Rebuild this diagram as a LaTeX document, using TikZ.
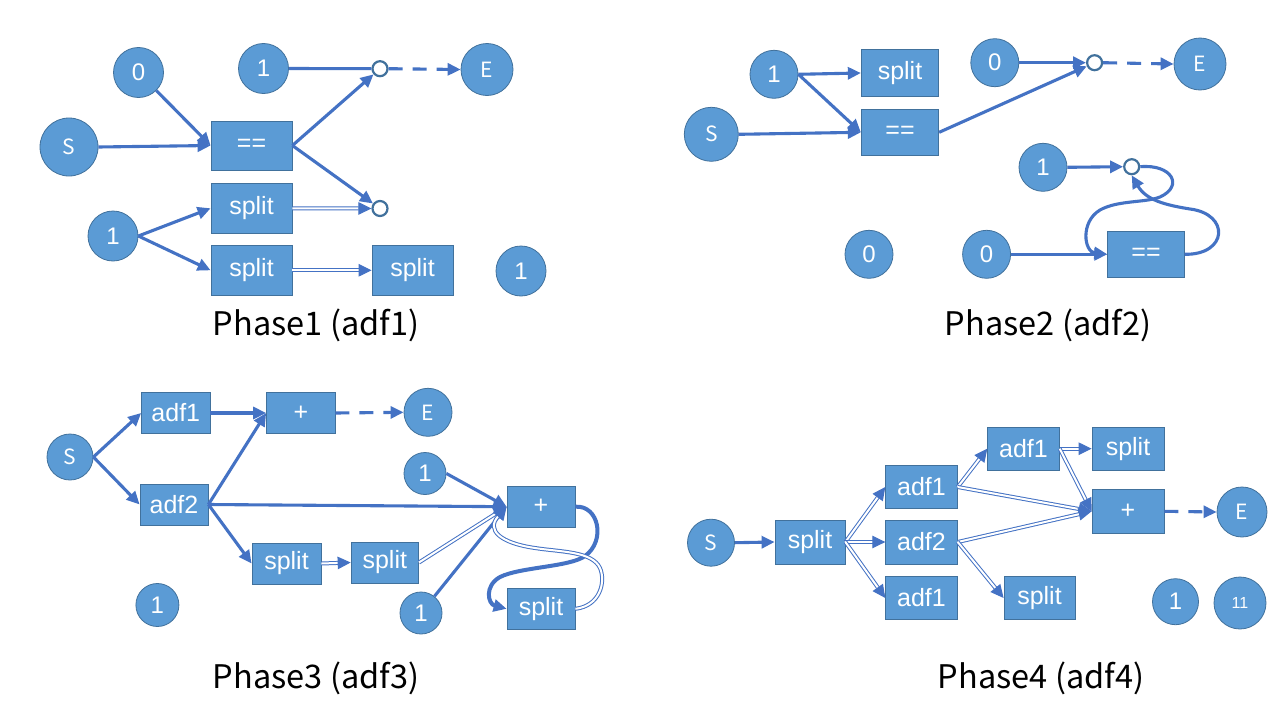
\documentclass[tikz,border=0pt]{standalone}
\usepackage{fontspec}
\setmainfont{Liberation Sans}
\newfontfamily\jpfont{Noto Sans CJK JP}
\usetikzlibrary{arrows.meta}
\definecolor{nodeblue}{HTML}{5B9BD5}
\definecolor{nodeedge}{HTML}{41719C}
\definecolor{arrowblue}{HTML}{4472C4}
\tikzset{
  circ/.style={circle, fill=nodeblue, draw=nodeedge, line width=0.8pt, text=white, inner sep=0pt, font=\fontsize{24}{24}\selectfont},
  letter/.style={circ, font=\jpfont\fontsize{21}{21}\selectfont},
  opbox/.style={rectangle, fill=nodeblue, draw=nodeedge, line width=0.8pt, text=white, inner sep=0pt, font=\fontsize{25}{25}\selectfont},
  jn/.style={circle, fill=white, draw=nodeedge, line width=2.2pt, minimum size=15pt, inner sep=0pt},
  tipA/.style={-{Triangle[length=13pt,width=12pt]}},
  tipB/.style={-{Triangle[length=13pt,width=12.5pt]}},
  arr/.style={draw=arrowblue, line width=3.1pt, tipA},
  plainline/.style={draw=arrowblue, line width=3.1pt},
  dbl/.style={draw=arrowblue, line width=1pt, double=white, double distance=2pt, tipB},
  dsh/.style={arr, dash pattern=on 14pt off 10pt},
  caption/.style={font=\jpfont\fontsize{32.5}{32.5}\selectfont, text=black, inner sep=0pt},
}
\begin{document}
\begin{tikzpicture}[x=1pt,y=-1pt]
\useasboundingbox (0,0) rectangle (1280,720);
\fill[white] (0,0) rectangle (1280,720);

% ---------------- Phase 1 ----------------
\node[circ, minimum size=50pt] (zero1) at (138.5,72.5) {0};
\node[circ, minimum size=50pt] (oneA) at (263.5,68.5) {1};
\node[letter, minimum size=58pt] (S1) at (69,147) {S};
\node[opbox, minimum width=81pt, minimum height=49pt] (eq1) at (251.5,145.5) {==};
\node[opbox, minimum width=81pt, minimum height=50pt] (sp1a) at (251.5,208.3) {split};
\node[opbox, minimum width=81pt, minimum height=50pt] (sp1b) at (251.5,270.3) {split};
\node[opbox, minimum width=81pt, minimum height=50pt] (sp1c) at (412.5,270.3) {split};
\node[circ, minimum size=50pt] (oneB) at (113,236) {1};
\node[circ, minimum size=50pt] (oneC) at (521,271) {1};
\node[letter, minimum size=52pt] (E1) at (487,69.5) {E};
\node[jn] (j1a) at (380,68.7) {};
\node[jn] (j1b) at (380,208.5) {};
\node[caption] (cap1) at (316,325) {Phase1 (adf1)};

\draw[arr] (zero1) -- (eq1.west);
\draw[arr] (S1.east) -- (eq1.west);
\draw[arr] (eq1.east) -- (j1a);
\draw[arr] (eq1.east) -- (j1b);
\draw[plainline] (oneA.east) -- (j1a.west);
\draw[dsh] (j1a.east) -- (E1.west);
\draw[arr] (oneB.east) -- (sp1a.west);
\draw[arr] (oneB.east) -- (sp1b.west);
\draw[dbl] (sp1a.east) -- (j1b.west);
\draw[dbl] (sp1b.east) -- (sp1c.west);

% ---------------- Phase 2 ----------------
\node[circ, minimum size=48pt] (one2a) at (774,74.3) {1};
\node[opbox, minimum width=77.5pt, minimum height=47.4pt] (sp2) at (900,73) {split};
\node[opbox, minimum width=77.5pt, minimum height=46pt] (eq2a) at (900,132.3) {==};
\node[letter, minimum size=54pt] (S2) at (711.3,134.3) {S};
\node[circ, minimum size=48pt] (zero2a) at (994.8,62.7) {0};
\node[jn] (j2a) at (1094.6,62.7) {};
\node[letter, minimum size=52pt] (E2) at (1200,64) {E};
\node[circ, minimum size=48pt] (one2b) at (1043,167.3) {1};
\node[jn] (j2b) at (1131.7,166.7) {};
\node[circ, minimum size=48pt] (zero2b) at (869,254.3) {0};
\node[circ, minimum size=48pt] (zero2c) at (986.6,254.3) {0};
\node[opbox, minimum width=76.6pt, minimum height=46.7pt] (eq2b) at (1146,254.3) {==};
\node[caption] (cap2) at (1048,325) {Phase2 (adf2)};

\draw[arr] (one2a.east) -- (sp2.west);
\draw[arr] (one2a.east) -- (eq2a.west);
\draw[arr] (S2.east) -- (eq2a.west);
\draw[arr] (eq2a.east) -- (j2a);
\draw[arr] (zero2a.east) -- (j2a.west);
\draw[dsh] (j2a.east) -- (E2.west);
\draw[arr] (one2b.east) -- (j2b.west);
\draw[arr] (zero2c.east) -- (eq2b.west);
\draw[arr] (eq2b.east) .. controls (1228,255) and (1230,214) .. (1190,209)
      .. controls (1165,205) and (1146,200) .. (j2b.south);
\draw[arr] (j2b.east) .. controls (1172,164) and (1184,186) .. (1160,197)
      .. controls (1145,203) and (1118,200) .. (1100,210)
      .. controls (1080,222) and (1084,252) .. (eq2b.west);

% ---------------- Phase 3 ----------------
\node[letter, minimum size=46pt] (S3) at (70,457) {S};
\node[opbox, minimum width=68.5pt, minimum height=40.6pt] (a31) at (175.8,413) {adf1};
\node[opbox, minimum width=68.5pt, minimum height=40.6pt] (p3a) at (300.8,413) {+};
\node[letter, minimum size=48pt] (E3) at (428,412.3) {E};
\node[opbox, minimum width=68pt, minimum height=41pt] (a32) at (174,504.5) {adf2};
\node[opbox, minimum width=69pt, minimum height=41pt] (sp3a) at (286.5,563.5) {split};
\node[opbox, minimum width=67.5pt, minimum height=41pt] (sp3b) at (384.8,562.5) {split};
\node[circ, minimum size=42pt] (one3a) at (425,473.5) {1};
\node[opbox, minimum width=68pt, minimum height=41pt] (p3b) at (541,506.7) {+};
\node[opbox, minimum width=68pt, minimum height=41pt] (sp3c) at (541,608.8) {split};
\node[circ, minimum size=42pt] (one3b) at (421,613) {1};
\node[circ, minimum size=43pt] (one3c) at (157.4,605) {1};
\node[caption] (cap3) at (316,678) {Phase3 (adf3)};

\draw[arr] (S3.east) -- (a31.west);
\draw[arr] (S3.east) -- (a32.west);
\draw[arr] (a31.east) -- (p3a.west);
\draw[arr] (a32.east) -- (p3a.west);
\draw[dsh] (p3a.east) -- (E3.west);
\draw[arr] (a32.east) -- (sp3a.west);
\draw[arr] (a32.east) -- (p3b.west);
\draw[dbl] (sp3a.east) -- (sp3b.west);
\draw[dbl] (sp3b.east) -- (p3b.west);
\draw[arr] (one3a.east) -- (p3b.west);
\draw[arr] (one3b) -- (p3b.west);
\draw[arr, line width=4pt] (p3b.east) .. controls (599,505) and (606,541) .. (585,556)
      .. controls (570,567) and (520,567) .. (500,577)
      .. controls (484,586) and (488,604) .. (sp3c.west);
\draw[dbl] (sp3c.east) .. controls (600,606) and (606,582) .. (600,568)
      .. controls (592,551) and (560,552) .. (535,548)
      .. controls (500,543) and (486,530) .. (p3b.west);

% ---------------- Phase 4 ----------------
\node[letter, minimum size=47pt] (S4) at (711,542.7) {S};
\node[opbox, minimum width=70pt, minimum height=44pt] (sp4a) at (810,542) {split};
\node[opbox, minimum width=71.6pt, minimum height=42.6pt] (a41) at (921.5,487) {adf1};
\node[opbox, minimum width=71.6pt, minimum height=44pt] (a42) at (921.5,542) {adf2};
\node[opbox, minimum width=71.6pt, minimum height=42.6pt] (a43) at (921.5,598) {adf1};
\node[opbox, minimum width=71.6pt, minimum height=42.6pt] (a44) at (1023.5,448.7) {adf1};
\node[opbox, minimum width=72pt, minimum height=42.6pt] (sp4b) at (1128,448.7) {split};
\node[opbox, minimum width=72pt, minimum height=44pt] (p4) at (1128,511.3) {+};
\node[opbox, minimum width=71pt, minimum height=42.6pt] (sp4c) at (1039.5,598) {split};
\node[letter, minimum size=50pt] (E4) at (1242,512) {E};
\node[circ, minimum size=46pt] (one4) at (1175.5,601.7) {1};
\node[circ, minimum size=52pt, font=\fontsize{16}{16}\selectfont] (eleven) at (1240,603) {11};
\node[caption] (cap4) at (1041,678) {Phase4 (adf4)};

\draw[arr] (S4.east) -- (sp4a.west);
\draw[dbl] (sp4a.east) -- (a41.west);
\draw[dbl] (sp4a.east) -- (a42.west);
\draw[dbl] (sp4a.east) -- (a43.west);
\draw[dbl] (a41.east) -- (a44.west);
\draw[dbl] (a41.east) -- (p4.west);
\draw[dbl] (a42.east) -- (p4.west);
\draw[dbl] (a42.east) -- (sp4c.west);
\draw[dbl] (a44.east) -- (sp4b.west);
\draw[dbl] (a44.east) -- (p4.west);
\draw[dsh] (p4.east) -- (E4.west);
\end{tikzpicture}
\end{document}
